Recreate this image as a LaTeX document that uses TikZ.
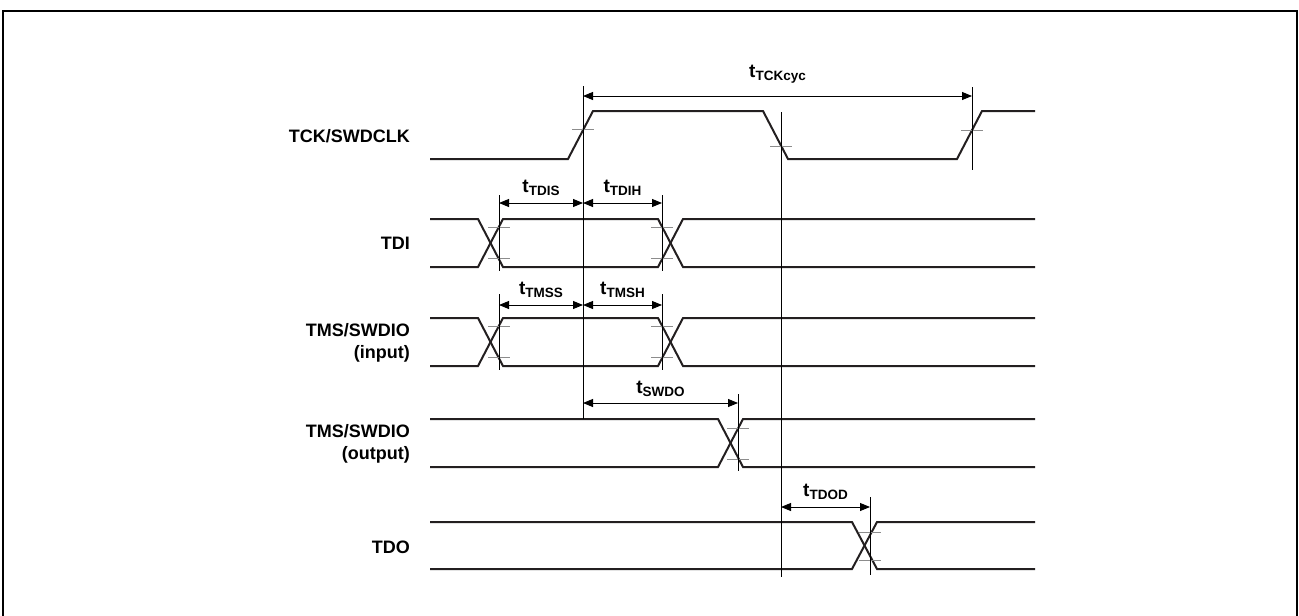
\documentclass[tikz,border=0pt]{standalone}
\usepackage{fontspec}
\setmainfont{Liberation Sans}
\usepackage{tikz}
\usetikzlibrary{arrows.meta,calc}
\definecolor{wavec}{HTML}{231F20}
\definecolor{tickc}{HTML}{8C8C8C}
\tikzset{
  >={Triangle[length=10pt,width=8pt]},
  wave/.style={draw=wavec,line width=2pt,line join=miter},
  guide/.style={draw=black,line width=0.9pt},
  tickln/.style={draw=tickc,line width=1pt},
  dimarr/.style={<->,draw=black,line width=0.9pt},
  sig/.style={font=\fontsize{18}{22}\selectfont\bfseries,anchor=east,align=right,inner sep=0pt},
  tlab/.style={font=\fontsize{19}{20}\selectfont\bfseries,anchor=base,inner sep=0pt},
  frm/.style={draw=black,line width=2pt},
}
\newcommand{\tsub}[1]{t\raisebox{-3pt}{\fontsize{13.5}{14}\selectfont #1}}
\newcommand{\buswin}[4]{%
  \draw[wave] (430,#1) -- (#3,#1) -- ++(25,#2-#1) -- (#4,#2) -- ++(25,#1-#2) -- (1035,#1);
  \draw[wave] (430,#2) -- (#3,#2) -- ++(25,#1-#2) -- (#4,#1) -- ++(25,#2-#1) -- (1035,#2);}
\newcommand{\buscross}[3]{%
  \draw[wave] (430,#1) -- (#3,#1) -- ++(25,#2-#1) -- (1035,#2);
  \draw[wave] (430,#2) -- (#3,#2) -- ++(25,#1-#2) -- (1035,#1);}

\begin{document}
\begin{tikzpicture}[x=1pt,y=-1pt]
  \useasboundingbox (0,0) rectangle (1299,616);
  \draw[frm] (3,616) -- (3,11) -- (1297,11) -- (1297,616);

  \node[sig] (n-tck) at (410,136) {TCK/SWDCLK};
  \node[sig] (n-tdi) at (410,243) {TDI};
  \node[sig] (n-tmsi) at (410,343) {TMS/SWDIO\\(input)};
  \node[sig] (n-tmso) at (410,444) {TMS/SWDIO\\(output)};
  \node[sig] (n-tdo) at (410,547) {TDO};

  \draw[wave] (430,159) -- (568,159) -- (593,111) -- (763,111) -- (788,159) -- (957,159) -- (982,111) -- (1035,111);
  \buswin{219}{267}{478}{658}
  \buswin{318}{366}{478}{658}
  \buscross{419}{467}{718}
  \buscross{522}{569}{852}

  \foreach \p in {{583,129},{781,146},{972,130},{499,227},{499,258},{662,227},{662,258},
                  {499,326},{499,357},{662,326},{662,357},{738,428},{738,459},{870,532},{870,560}}
    \draw[tickln] (\p) ++(-11,0) -- ++(22,0);

  \coordinate (ck-r1) at (583,86);   \coordinate (ck-r1b) at (583,419);
  \coordinate (ck-f)  at (781,112);  \coordinate (ck-fb)  at (781,577);
  \coordinate (ck-r2) at (972,87);   \coordinate (ck-r2b) at (972,170);
  \coordinate (di-s)  at (499,195);  \coordinate (di-sb)  at (499,271);
  \coordinate (di-h)  at (662,195);  \coordinate (di-hb)  at (662,271);
  \coordinate (ms-s)  at (499,294);  \coordinate (ms-sb)  at (499,370);
  \coordinate (ms-h)  at (662,294);  \coordinate (ms-hb)  at (662,370);
  \coordinate (sw-d)  at (738,394);  \coordinate (sw-db)  at (738,471);
  \coordinate (do-d)  at (870,497);  \coordinate (do-db)  at (870,575);
  \foreach \g in {ck-r1,ck-f,ck-r2,di-s,di-h,ms-s,ms-h,sw-d,do-d}
    \draw[guide] (\g) -- (\g b);

  \draw[dimarr] (ck-r1 |- 0,96) -- node[tlab,yshift=19pt] (l-cyc) {\tsub{TCKcyc}} (ck-r2 |- 0,96);
  \draw[dimarr] (di-s |- 0,203) -- node[tlab,yshift=11pt] (l-tdis) {\tsub{TDIS}} (ck-r1 |- 0,203);
  \draw[dimarr] (ck-r1 |- 0,203) -- node[tlab,yshift=11pt] (l-tdih) {\tsub{TDIH}} (di-h |- 0,203);
  \draw[dimarr] (ms-s |- 0,305) -- node[tlab,yshift=11pt] (l-tmss) {\tsub{TMSS}} (ck-r1 |- 0,305);
  \draw[dimarr] (ck-r1 |- 0,305) -- node[tlab,yshift=11pt] (l-tmsh) {\tsub{TMSH}} (ms-h |- 0,305);
  \draw[dimarr] (ck-r1 |- 0,403) -- node[tlab,yshift=10pt] (l-swdo) {\tsub{SWDO}} (sw-d |- 0,403);
  \draw[dimarr] (ck-f |- 0,507) -- node[tlab,yshift=11pt] (l-tdod) {\tsub{TDOD}} (do-d |- 0,507);
\end{tikzpicture}
\end{document}
